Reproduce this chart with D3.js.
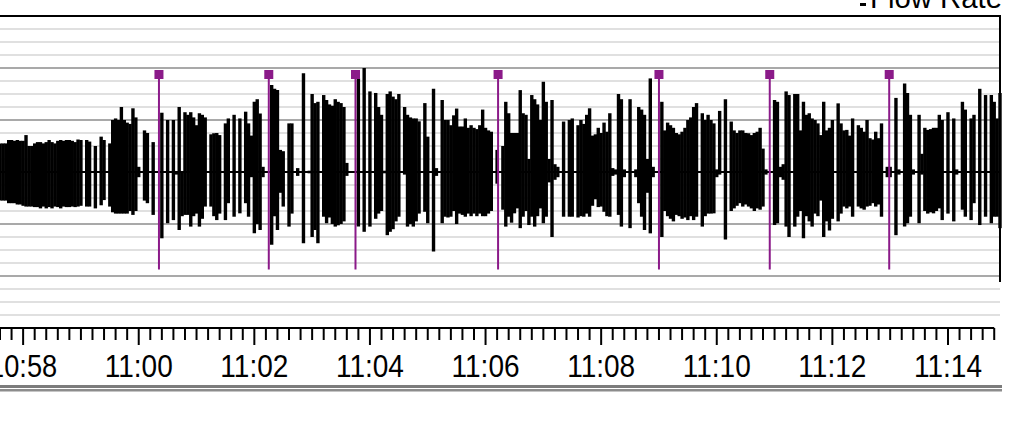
<!DOCTYPE html>
<html><head><meta charset="utf-8">
<script src="https://cdn.jsdelivr.net/npm/d3@7"></script>
<style>html,body{margin:0;padding:0;background:#fff;overflow:hidden}</style>
</head><body>
<svg id="c" width="1022" height="429"></svg>
<script>
// ---- data ----
const startTime = "10:57:36";
const endTime = "11:14:54";
const sampleStepSec = 3;
const seriesName = "Flow Rate";
// peak inspiratory flow per 3-s sample (L/min)
const inspFlow = [
11,11,11,12.3,12.3,12,12.3,12,12,14.2,
10,10,11,11.5,11.5,11,11.5,12.3,11.5,11,
12,12.3,12,12.3,12.3,12,11.5,12.5,12.3,0,
12.3,11.7,0,10,0,13.6,12.3,0,11,20,
20.6,20,25,20,19,18.5,24.5,21,2,0,
16,15,0,11.5,0,0,22.8,0,20,0,
20,0,25,0,23,22,23,21,18,22.6,
22,21,0,14.5,14.9,15,14.2,0,18.7,20.6,
0,22,0,20.6,0,23.2,18.7,14,27,28,
22.5,2,0,0,33.5,32,31.5,8.5,8,0,
18.7,18.7,0,1.5,0,38,0,0.5,30,26.5,
27,0,29.6,27.7,26,25.5,28,27,26.5,25,
3.5,0,0,0,36,0,40,0,31,0,
30.4,25,22,0.5,30,31,29,28,30,0,
25,22,21,20.6,20.6,19.5,0,26.5,13.6,0,
32,1.5,0,27.7,20,20,18,21.8,24.4,17.5,
17.5,20.6,17,18,17,16.5,18,24,17,16,
15.5,0,8.5,0,10,27,22.6,15,15,15,
31.5,22.6,22,5,29.6,28,26,20,34.7,27,
5,27.7,3,2,0,19.4,0,20,20.6,0,
18,20,18.5,22,24.5,14,14.5,17,15,19,
15.5,22.6,1.5,1,30,28,1,0,28,0,
1,25,24,22,5,36,2,0,0,27,
16,19,18,17,15,14.5,15.5,17,20,21,
25,26.5,0,22.6,20,22,20,18.7,1,23.5,
0,28,0,19.4,16,15,16,16,15,14.9,
14.2,15,15.5,17,9,1,0,0,27.7,27,
2,3,31,29.6,0,30,30,16,27,22,
22.6,20.6,20,18.7,14.2,27,16,17,20,0,
26.4,18.7,16,16.2,14,20.6,0,18,17,15.5,
20,13,12.5,15.5,13,18.7,0,2,2,0,
28.5,1,0,34,30.4,22,1,0,22,7,
17,16.2,16.5,17,17,22,20,0,23,0,
20.6,1,0,27,24,0,20.6,22,0,32,
0,29.6,0,29.6,27,20.6,30.4];
// peak expiratory flow per 3-s sample (L/min)
const expFlow = [
-11,-11,-11,-12,-12,-12,-12.5,-12.5,-13,-13.3,
-13.3,-13.3,-13.5,-13.5,-14,-13.3,-14,-13.5,-14,-13.3,
-13.5,-14,-13.3,-13.5,-13.5,-13.3,-13.5,-13.3,-13,0,
-13.3,-13.3,0,-14,0,-12.8,-10.8,0,-13.3,-15.5,
-16,-16,-16,-16,-16,-15,-16.5,-15,-2,0,
-11,-12,0,-16.5,0,0,-25.5,0,-19.7,0,
-18.5,-1,-22.3,-17,-16.5,-16.5,-21,-17,-16,-21,
-18,-13.3,0,-13.3,-17,-18.5,-16,0,-18.5,-12,
0,-17.2,0,-15.9,0,-12,-17.2,-2,-23.6,-20,
-22.3,-2,0,0,-28,-17,-22.3,-8,-13.3,0,
-21,-16,0,-1.5,0,-27.4,0,-0.5,-25,-22.3,
-27.4,0,-17.2,-19.7,-17.5,-20,-21,-20.5,-20,-19,
-1.5,0,0,0,-21,0,-23,0,-21,0,
-18,-16,-15,-0.5,-24.3,-23,-22,-19,-17.2,0,
-1,-21,-20,-21,-19,-16,0,-15.3,-19.7,0,
-30.6,-1.5,0,-19.7,-17.2,-17.5,-17.2,-15,-20,-16,
-16.5,-17.2,-16,-17,-16,-17,-16,-17,-17,-16,
-15,0,-4.5,0,-14.5,-21,-17.2,-19.5,-15.9,-14,
-21.6,-17.2,-15,-20.4,-17.2,-21,-17,-14,-19.7,-17.2,
-4,-25,-3,-2,0,-17.2,0,-17.2,-17.2,0,
-17.5,-17,-17.2,-16,-17.2,-13,-10.5,-13.5,-13.3,-15.3,
-17,-17.2,-1.5,-1,-16.5,-21,-2,0,-21.6,0,
-2,-12,-17.2,-22.3,-8,-23.6,-2,0,0,-25,
-15,-17,-18,-19,-16.5,-17,-18,-17.5,-18.5,-17,
-18.5,-17.2,0,-21,-17,-16,-16,-15.9,-2,-1,
0,-26,0,-15,-14,-13,-12,-13.3,-12.5,-13.3,
-14,-15,-14,-14.5,-13.3,-1,0,0,-20.4,-19.7,
-2,-3,-21,-25,0,-21,-17.2,-15,-25.5,-17,
-19,-21,-16,-17,-11,-25,-19,-22.5,-18,0,
-19,-16,-13.3,-14,-13.3,-17.2,0,-13.3,-14,-14.5,
-13.3,-13,-12,-13.3,-12.5,-17.2,0,-2,-2,0,
-24.3,-1,0,-21,-19.7,-17.2,-1,0,-19.7,-1,
-15,-16,-15.5,-15.9,-15,-14,-18.5,0,-16,0,
-19,-1,0,-14.5,-17.2,0,-18.5,-12,0,-20.4,
0,-17.2,0,-19.7,-17.2,-17.2,-21.6];
// event markers (purple)
const eventTimes = ["11:00:21","11:02:15","11:03:45","11:06:13","11:09:00","11:10:55","11:12:59"];
const eventTopFlow = 37.5;
const eventBottomFlow = -37.5;
const tickLabels = ["10:58","11:00","11:02","11:04","11:06","11:08","11:10","11:12","11:14"];
const flowDomain = [-60, 60];

// ---- drawing ----
const parse = d3.timeParse("%Y-%m-%d %H:%M:%S");
const T = s => parse("2000-01-01 " + (s.length === 5 ? s + ":00" : s));
const t0 = T(startTime), t1 = T(endTime);

const svg = d3.select("#c");
const x = d3.scaleTime().domain([t0, t1]).range([0, 1000]);
const y = d3.scaleLinear().domain(flowDomain).range([328, 16]);

// grid
const grid = d3.range(flowDomain[0], flowDomain[1] + 1, 5);
svg.append("g").selectAll("line").data(grid.filter(v => v % 20 !== 0)).join("line")
  .attr("x1", 0).attr("x2", 1000).attr("y1", d => y(d)).attr("y2", d => y(d))
  .attr("stroke", "#d6d6d6").attr("stroke-width", 1.5);
svg.append("g").selectAll("line").data(grid.filter(v => v % 20 === 0 && v > flowDomain[0] && v < flowDomain[1])).join("line")
  .attr("x1", 0).attr("x2", 1000).attr("y1", d => y(d)).attr("y2", d => y(d))
  .attr("stroke", "#a9a9a9").attr("stroke-width", 2);

// top border and right border
svg.append("line").attr("x1", 0).attr("x2", 1001).attr("y1", y(60)).attr("y2", y(60))
  .attr("stroke", "#000").attr("stroke-width", 2);
svg.append("line").attr("x1", 1000).attr("x2", 1000).attr("y1", y(60)).attr("y2", y(-42.3))
  .attr("stroke", "#000").attr("stroke-width", 2);

// waveform
const samples = inspFlow.map((v, i) => ({ t: d3.timeSecond.offset(t0, i * sampleStepSec), hi: v, lo: expFlow[i] }));
svg.append("line").attr("x1", x(t0)).attr("x2", 1000).attr("y1", y(0)).attr("y2", y(0))
  .attr("stroke", "#000").attr("stroke-width", 2);
svg.append("g").selectAll("line").data(samples.filter(d => d.hi !== 0 || d.lo !== 0)).join("line")
  .attr("x1", d => x(d.t)).attr("x2", d => x(d.t))
  .attr("y1", d => y(d.hi)).attr("y2", d => y(d.lo))
  .attr("stroke", "#000").attr("stroke-width", 3.4);

// events
const ev = svg.append("g").selectAll("g").data(eventTimes.map(T)).join("g");
ev.append("line").attr("x1", d => x(d)).attr("x2", d => x(d))
  .attr("y1", y(eventTopFlow)).attr("y2", y(eventBottomFlow))
  .attr("stroke", "#8b1a89").attr("stroke-width", 2);
ev.append("rect").attr("x", d => x(d) - 4.5).attr("y", y(eventTopFlow) - 4.5)
  .attr("width", 9).attr("height", 9).attr("fill", "#8b1a89");

// x axis
const lastTick = T("11:14:48");
const minor = x.ticks(d3.timeSecond.every(12)).filter(d => d <= lastTick);
svg.append("line").attr("x1", 0).attr("x2", x(lastTick)).attr("y1", 328).attr("y2", 328)
  .attr("stroke", "#000").attr("stroke-width", 2);
svg.append("g").selectAll("line").data(minor).join("line")
  .attr("x1", d => x(d)).attr("x2", d => x(d)).attr("y1", 328)
  .attr("y2", d => (d.getSeconds() === 0 && d.getMinutes() % 2 === 0) ? 345 : 340)
  .attr("stroke", "#000").attr("stroke-width", 2);
svg.append("g").selectAll("text").data(tickLabels).join("text")
  .attr("x", d => x(T(d))).attr("y", 377)
  .attr("text-anchor", "middle")
  .attr("textLength", 68).attr("lengthAdjust", "spacingAndGlyphs")
  .attr("font-family", "Liberation Sans, Arial, sans-serif").attr("font-size", 32)
  .attr("fill", "#000").text(d => d);

// bottom double rule
svg.append("rect").attr("x", 0).attr("y", 385).attr("width", 1002).attr("height", 3).attr("fill", "#7c7c7c");
svg.append("rect").attr("x", 0).attr("y", 389).attr("width", 1002).attr("height", 2.5).attr("fill", "#8c8c8c");

// legend (clipped at top)
svg.append("rect").attr("x", 860).attr("y", 3).attr("width", 6).attr("height", 3).attr("fill", "#000");
svg.append("text").attr("x", 1002).attr("y", 8).attr("text-anchor", "end")
  .attr("textLength", 132).attr("lengthAdjust", "spacingAndGlyphs")
  .attr("font-family", "Liberation Sans, Arial, sans-serif").attr("font-size", 30)
  .attr("fill", "#000").text(seriesName);
</script>
</body></html>
